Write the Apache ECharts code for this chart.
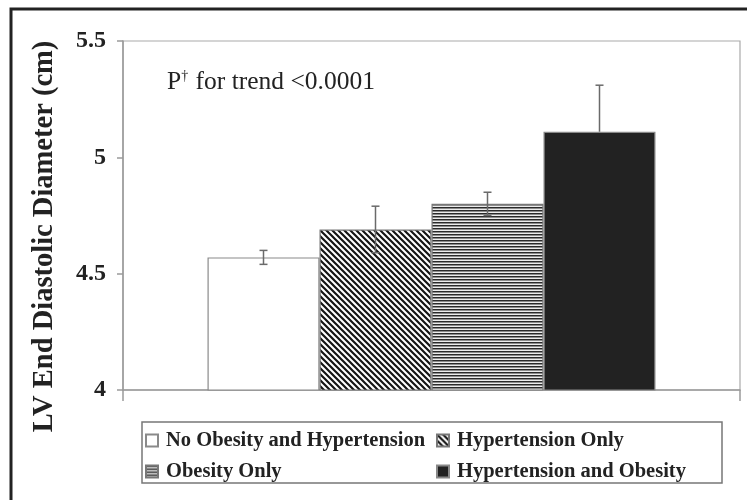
<!DOCTYPE html>
<html><head><meta charset="utf-8">
<script src="https://cdn.jsdelivr.net/npm/echarts@6/dist/echarts.min.js"></script>
<style>html,body{margin:0;padding:0;background:#fff}#c{width:747px;height:500px}</style>
</head><body><div id="c"></div>
<script>
// ---- data ----
const groups = ['No Obesity and Hypertension', 'Hypertension Only', 'Obesity Only', 'Hypertension and Obesity'];
const means = [4.57, 4.69, 4.80, 5.11];
const errPlus = [0.03, 0.10, 0.05, 0.20];
const errMinus = [0.03, 0.10, 0.05, 0];
const yMin = 4, yMax = 5.5, yStep = 0.5;
const yAxisTitle = 'LV End Diastolic Diameter (cm)';

// ---- styles ----
const SERIF = '"Liberation Serif", "Times New Roman", serif';
const BAR_W = 112;
const AXIS_C = '#9a9a9a';

function diagPattern() {
  const c = document.createElement('canvas'); c.width = 6; c.height = 6;
  const g = c.getContext('2d');
  g.fillStyle = '#fff'; g.fillRect(0, 0, 6, 6);
  g.strokeStyle = '#151515'; g.lineWidth = 2.2; g.lineCap = 'square';
  g.beginPath();
  g.moveTo(-1, -1); g.lineTo(7, 7);
  g.moveTo(5, -1); g.lineTo(7, 1);
  g.moveTo(-1, 5); g.lineTo(1, 7);
  g.stroke();
  return c;
}
function horizPattern() {
  const c = document.createElement('canvas'); c.width = 4; c.height = 3;
  const g = c.getContext('2d');
  g.fillStyle = '#2a2a2a'; g.fillRect(0, 0, 4, 1);
  g.fillStyle = '#8c8c8c'; g.fillRect(0, 1, 4, 1);
  g.fillStyle = '#ececec'; g.fillRect(0, 2, 4, 1);
  return c;
}
const fills = [
  '#ffffff',
  { image: diagPattern(), repeat: 'repeat' },
  { image: horizPattern(), repeat: 'repeat' },
  '#222222'
];
const borders = ['#8a8a8a', '#777777', '#777777', '#888888'];

const chart = echarts.init(document.getElementById('c'), null, { renderer: 'canvas' });

const barSeries = groups.map((g, i) => ({
  name: g,
  type: 'bar',
  data: [means[i]],
  barWidth: BAR_W,
  barGap: '0%',
  itemStyle: { color: fills[i], borderColor: borders[i], borderWidth: 1.2 },
  emphasis: { disabled: true },
  silent: true,
  z: 2
}));

const errSeries = {
  type: 'custom',
  silent: true,
  z: 5,
  data: means.map((m, i) => [0, m, errPlus[i], errMinus[i], i]),
  encode: { x: 0, y: 1 },
  renderItem: function (params, api) {
    const i = api.value(4), m = api.value(1), p = api.value(2), n = api.value(3);
    const base = api.coord([0, m]);
    const x = base[0] + (i - (groups.length - 1) / 2) * BAR_W;
    const yt = api.coord([0, m + p])[1];
    const yb = api.coord([0, m - n])[1];
    const cap = 4;
    const st = { stroke: '#6a6a6a', lineWidth: 1.5 };
    const ch = [{ type: 'line', shape: { x1: x, y1: yt, x2: x, y2: yb }, style: st }];
    if (p > 0) ch.push({ type: 'line', shape: { x1: x - cap, y1: yt, x2: x + cap, y2: yt }, style: st });
    if (n > 0) ch.push({ type: 'line', shape: { x1: x - cap, y1: yb, x2: x + cap, y2: yb }, style: st });
    return { type: 'group', children: ch };
  }
};

const legendText = { fontFamily: SERIF, fontWeight: 'bold', fontSize: 20.5, color: '#222', padding: [0, 0, 0, 3] };

chart.setOption({
  animation: false,
  backgroundColor: '#fff',
  grid: { left: 123, right: 7, top: 41, bottom: 110, show: true, borderColor: '#aaaaaa', borderWidth: 1.2, containLabel: false },
  title: {
    text: '{a|P}{s|†}{a| for trend <0.0001}',
    left: 162, top: 64,
    textStyle: {
      fontWeight: 'normal',
      rich: {
        a: { fontFamily: SERIF, fontSize: 25.5, fontWeight: 'normal', color: '#222' },
        s: { fontFamily: SERIF, fontSize: 14, fontWeight: 'normal', color: '#222', verticalAlign: 'top', padding: [0, 1, 12, 0] }
      }
    }
  },
  legend: [
    { data: [groups[0], groups[2]], orient: 'vertical', left: 145, top: 430, padding: 0, itemGap: 10,
      itemWidth: 12, itemHeight: 12, icon: 'rect', selectedMode: false, textStyle: legendText },
    { data: [groups[1], groups[3]], orient: 'vertical', left: 436, top: 430, padding: 0, itemGap: 10,
      itemWidth: 12, itemHeight: 12, icon: 'rect', selectedMode: false, textStyle: legendText }
  ],
  xAxis: {
    type: 'category', data: [''],
    axisLine: { show: true, lineStyle: { color: AXIS_C, width: 1.5 } },
    axisTick: { show: true, length: 11, lineStyle: { color: AXIS_C, width: 1.5 } },
    axisLabel: { show: false },
    splitLine: { show: false }
  },
  yAxis: {
    type: 'value', min: yMin, max: yMax, interval: yStep,
    name: yAxisTitle, nameLocation: 'middle', nameGap: 64,
    nameTextStyle: { fontFamily: SERIF, fontWeight: 'bold', fontSize: 28.5, color: '#222', padding: [0, 42, 0, 0] },
    axisLine: { show: true, lineStyle: { color: AXIS_C, width: 1.5 } },
    axisTick: { show: true, length: 6, lineStyle: { color: AXIS_C, width: 1.5 } },
    axisLabel: { fontFamily: SERIF, fontWeight: 'bold', fontSize: 24, color: '#222', margin: 17 },
    splitLine: { show: false }
  },
  graphic: [
    { type: 'rect', shape: { x: 11, y: 9, width: 800, height: 560 }, style: { fill: null, stroke: '#222', lineWidth: 3 }, silent: true },
    { type: 'rect', shape: { x: 142, y: 422, width: 580, height: 61 }, style: { fill: null, stroke: '#777', lineWidth: 1.5 }, silent: true }
  ],
  series: barSeries.concat([errSeries])
});
</script>
</body></html>
